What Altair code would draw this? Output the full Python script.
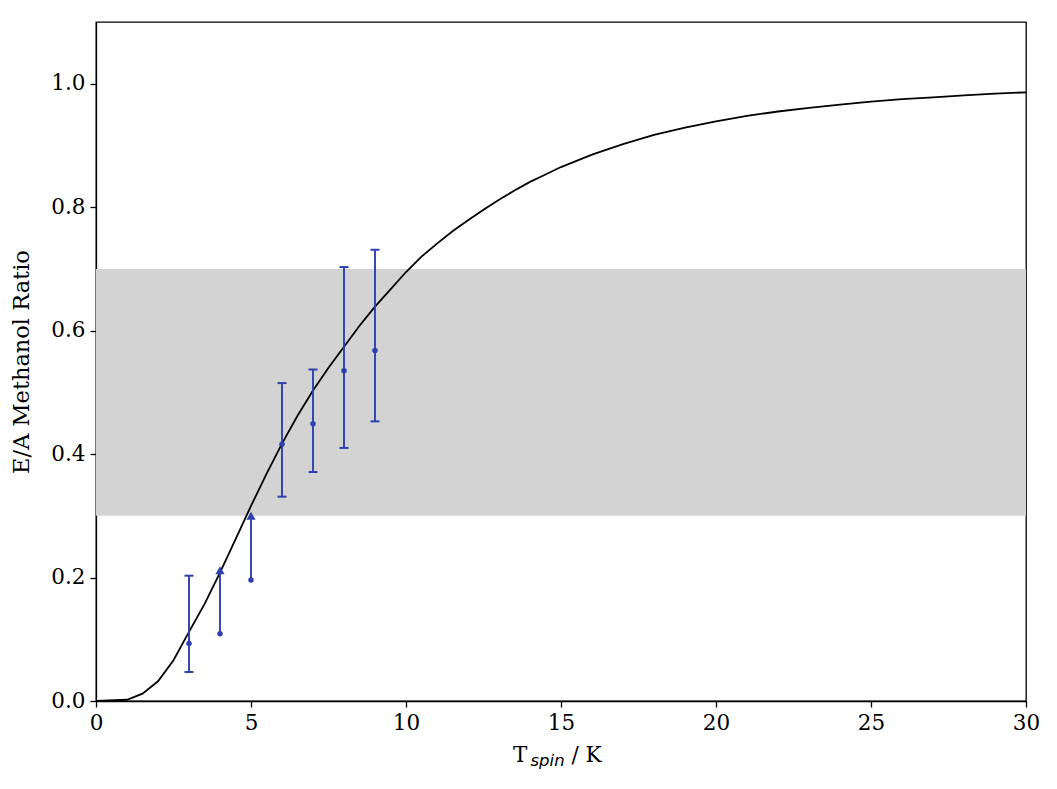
import altair as alt
import pandas as pd

# Model curve
T_curve = [0, 1.0, 1.5, 2.0, 2.5, 3.0, 3.5, 4.0, 4.5, 5.0, 5.5, 6.0, 6.5, 7.0, 7.5, 8.0,
           8.5, 9.0, 9.5, 10.0, 10.5, 11.0, 11.5, 12.0, 12.5, 13.0, 13.5, 14.0, 14.5, 15.0,
           16, 17, 18, 19, 20, 21, 22, 23, 24, 25, 26, 27, 28, 29, 30]
R_curve = [0.0, 0.002, 0.012, 0.032, 0.066, 0.112, 0.157, 0.208, 0.262, 0.316, 0.368, 0.417,
           0.462, 0.503, 0.540, 0.574, 0.608, 0.639, 0.667, 0.695, 0.720, 0.741, 0.761, 0.779,
           0.796, 0.812, 0.827, 0.841, 0.853, 0.865,
           0.885, 0.902, 0.917, 0.929, 0.939, 0.948, 0.955, 0.961, 0.966, 0.971, 0.975, 0.978,
           0.981, 0.984, 0.986]

# Observations
T_obs = [3, 4, 5, 6, 7, 8, 9]
R_obs = [0.093, 0.109, 0.196, 0.416, 0.449, 0.535, 0.568]
R_low = [0.047, 0.109, 0.196, 0.331, 0.371, 0.410, 0.453]
R_high = [0.203, 0.212, 0.300, 0.515, 0.537, 0.703, 0.731]
is_limit = [False, True, True, False, False, False, False]

# Shaded range
band_x = [0, 30]
band_lo = [0.3, 0.3]
band_hi = [0.7, 0.7]

BLUE = "#2f3fae"
SERIF = "DejaVu Serif"
FS = 21.5

curve_df = pd.DataFrame({"T": T_curve, "R": R_curve})
obs_df = pd.DataFrame({"T": T_obs, "R": R_obs, "lo": R_low, "hi": R_high, "lim": is_limit})
band_df = pd.DataFrame({"T": band_x, "lo": band_lo, "hi": band_hi})

xscale = alt.Scale(domain=[0, 30], nice=False, zero=False)
yscale = alt.Scale(domain=[0, 1.1], nice=False)

xax = alt.Axis(values=[0, 5, 10, 15, 20, 25, 30], format="d", title=None, grid=False,
               labelFlush=False)
yax = alt.Axis(values=[0, 0.2, 0.4, 0.6, 0.8, 1.0], format=".1f", title="E/A Methanol Ratio",
               grid=False, labelFlush=False)

band = alt.Chart(band_df).mark_area(color="#d3d3d3", opacity=1).encode(
    x=alt.X("T:Q", scale=xscale, axis=xax),
    y=alt.Y("lo:Q", scale=yscale, axis=yax),
    y2="hi:Q",
)

curve = alt.Chart(curve_df).mark_line(color="black", strokeWidth=1.8).encode(
    x=alt.X("T:Q", scale=xscale),
    y=alt.Y("R:Q", scale=yscale),
)

bars = alt.Chart(obs_df).mark_rule(color=BLUE, strokeWidth=1.9).encode(
    x="T:Q", y="lo:Q", y2="hi:Q"
)

caps_df = obs_df[~obs_df["lim"]]
cap_hi = alt.Chart(caps_df).mark_tick(color=BLUE, orient="horizontal", size=9, thickness=2,
                                      opacity=1).encode(x="T:Q", y="hi:Q")
cap_lo = alt.Chart(caps_df).mark_tick(color=BLUE, orient="horizontal", size=9, thickness=2,
                                      opacity=1).encode(x="T:Q", y="lo:Q")
arrows = alt.Chart(obs_df[obs_df["lim"]]).mark_point(
    shape="triangle-up", filled=True, color=BLUE, opacity=1, size=85
).encode(x="T:Q", y="hi:Q")

pts = alt.Chart(obs_df).mark_circle(color=BLUE, opacity=1, size=30).encode(x="T:Q", y="R:Q")

lab = pd.DataFrame({"a": [1]})
t_main = alt.Chart(lab).mark_text(text="T", font=SERIF, fontSize=FS, align="left",
                                  baseline="alphabetic", color="black").encode(
    x=alt.value(417), y=alt.value(740))
t_sub = alt.Chart(lab).mark_text(text="spin", font="DejaVu Sans", fontStyle="italic", fontSize=16.5,
                                 align="left", baseline="alphabetic", color="black").encode(
    x=alt.value(434.5), y=alt.value(743.5))
t_unit = alt.Chart(lab).mark_text(text="/ K", font=SERIF, fontSize=FS, align="left",
                                  baseline="alphabetic", color="black").encode(
    x=alt.value(475.5), y=alt.value(740))

chart = alt.layer(band, curve, bars, cap_hi, cap_lo, arrows, pts, t_main, t_sub, t_unit).properties(
    width=930, height=679,
    autosize=alt.AutoSizeParams(type="none"),
    padding={"left": 96, "top": 22, "right": 31, "bottom": 88},
    background="white",
).configure_view(stroke="black", strokeWidth=1.3).configure_axis(
    domainColor="black", domainWidth=1.3, tickColor="black", tickWidth=1.3, tickSize=6,
    labelFont=SERIF, labelFontSize=FS, labelColor="black", labelPadding=5,
    titleFont=SERIF, titleFontSize=22.5, titleFontWeight="normal", titleColor="black",
).configure_axisY(titlePadding=17)

chart.save("out.html", embed_options={"renderer": "svg", "actions": False})
